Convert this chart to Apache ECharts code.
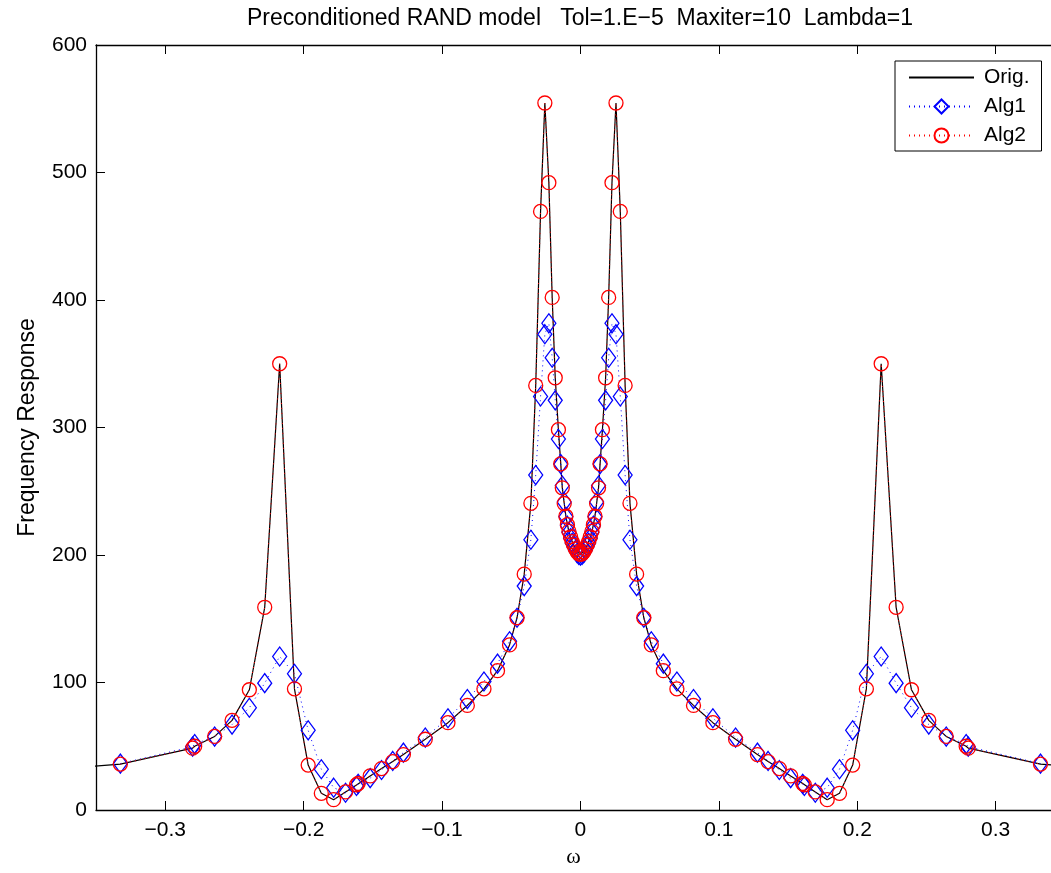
<!DOCTYPE html>
<html>
<head>
<meta charset="utf-8">
<script src="https://cdn.jsdelivr.net/npm/echarts@6/dist/echarts.min.js"></script>
<style>
html, body { margin: 0; padding: 0; background: #fff; }
#main { width: 1051px; height: 873px; }
</style>
</head>
<body>
<div id="main"></div>
<script>
// frequency grid shared by both algorithms
const omega = [
    -0.3324, -0.2802, -0.2787, -0.2643, -0.2517, -0.2392, -0.2281, -0.2173, -0.2066, -0.1967,
    -0.1872, -0.1783, -0.1697, -0.1618, -0.1606, -0.1519, -0.1437, -0.1356, -0.1279, -0.1121,
    -0.0957, -0.0817, -0.0697, -0.0599, -0.0512, -0.0458, -0.0406, -0.0358, -0.0323, -0.0288,
    -0.0257, -0.0228, -0.0204, -0.0182, -0.0159, -0.0142, -0.0131, -0.0117, -0.0105, -0.0094,
    -0.0083, -0.0071, -0.0060, -0.0048, -0.0036, -0.0024, -0.0012,
    0,
    0.0012, 0.0024, 0.0036, 0.0048, 0.0060, 0.0071, 0.0083, 0.0094, 0.0105, 0.0117,
    0.0131, 0.0142, 0.0159, 0.0182, 0.0204, 0.0228, 0.0257, 0.0288, 0.0323, 0.0358,
    0.0406, 0.0458, 0.0512, 0.0599, 0.0697, 0.0817, 0.0957, 0.1121, 0.1279, 0.1356,
    0.1437, 0.1519, 0.1606, 0.1618, 0.1697, 0.1783, 0.1872, 0.1967, 0.2066, 0.2173,
    0.2281, 0.2392, 0.2517, 0.2643, 0.2787, 0.2802, 0.3324
];

const alg1Resp = [
    36.4, 49.7, 51.7, 57.6, 67, 80.2, 99.5, 120.4, 106.8, 62.5,
    32, 17.5, 13.5, 18.8, 20.5, 25, 31.4, 38.5, 45, 56.8,
    72, 87, 100.8, 114.8, 132.3, 150.8, 175.6, 212, 262.7, 324.3,
    373.2, 381.7, 354.7, 321.3, 291, 271.3, 254.5, 241.5, 230, 223,
    217.8, 213.2, 209.5, 206.5, 203.8, 201.5, 200,
    199.5,
    200, 201.5, 203.8, 206.5, 209.5, 213.2, 217.8, 223, 230, 241.5,
    254.5, 271.3, 291, 321.3, 354.7, 381.7, 373.2, 324.3, 262.7, 212,
    175.6, 150.8, 132.3, 114.8, 100.8, 87, 72, 56.8, 45, 38.5,
    31.4, 25, 20.5, 18.8, 13.5, 17.5, 32, 62.5, 106.8, 120.4,
    99.5, 80.2, 67, 57.6, 51.7, 49.7, 36.4
];

const alg2Resp = [
    36, 48.5, 50, 57.7, 70.3, 94.3, 159, 350, 95, 35.2,
    13.1, 8.1, 14.2, 19.7, 20.8, 26.7, 32.5, 38, 43.5, 55.5,
    68.5, 82, 95, 109.3, 129.5, 150.8, 185, 240.5, 333, 469.5,
    554.5, 492, 402, 339, 298.3, 271.5, 252.7, 240.4, 230.4, 223.8,
    218.6, 214.2, 210.5, 207.5, 204.8, 202.5, 201,
    200.5,
    201, 202.5, 204.8, 207.5, 210.5, 214.2, 218.6, 223.8, 230.4, 240.4,
    252.7, 271.5, 298.3, 339, 402, 492, 554.5, 469.5, 333, 240.5,
    185, 150.8, 129.5, 109.3, 95, 82, 68.5, 55.5, 43.5, 38,
    32.5, 26.7, 20.8, 19.7, 14.2, 8.1, 13.1, 35.2, 95, 350,
    159, 94.3, 70.3, 57.7, 50, 48.5, 36
];

// original response, grid runs past the visible axis range
const origOmega = [
    -0.5,
    -0.3324, -0.2802, -0.2787, -0.2643, -0.2517, -0.2392, -0.2281, -0.2173, -0.2066, -0.1967,
    -0.1872, -0.1783, -0.1697, -0.1618, -0.1606, -0.1519, -0.1437, -0.1356, -0.1279, -0.1121,
    -0.0957, -0.0817, -0.0697, -0.0599, -0.0512, -0.0458, -0.0406, -0.0358, -0.0323, -0.0288,
    -0.0257, -0.0228, -0.0204, -0.0182, -0.0159, -0.0142, -0.0131, -0.0117, -0.0105, -0.0094,
    -0.0083, -0.0071, -0.0060, -0.0048, -0.0036, -0.0024, -0.0012,
    0,
    0.0012, 0.0024, 0.0036, 0.0048, 0.0060, 0.0071, 0.0083, 0.0094, 0.0105, 0.0117,
    0.0131, 0.0142, 0.0159, 0.0182, 0.0204, 0.0228, 0.0257, 0.0288, 0.0323, 0.0358,
    0.0406, 0.0458, 0.0512, 0.0599, 0.0697, 0.0817, 0.0957, 0.1121, 0.1279, 0.1356,
    0.1437, 0.1519, 0.1606, 0.1618, 0.1697, 0.1783, 0.1872, 0.1967, 0.2066, 0.2173,
    0.2281, 0.2392, 0.2517, 0.2643, 0.2787, 0.2802, 0.3324,
    0.5
];

const origResp = [
    22,
    36, 48.5, 50, 57.7, 70.3, 94.3, 159, 350, 95, 35.2,
    13.1, 8.1, 14.2, 19.7, 20.8, 26.7, 32.5, 38, 43.5, 55.5,
    68.5, 82, 95, 109.3, 129.5, 150.8, 185, 240.5, 333, 469.5,
    554.5, 492, 402, 339, 298.3, 271.5, 252.7, 240.4, 230.4, 223.8,
    218.6, 214.2, 210.5, 207.5, 204.8, 202.5, 201,
    200.5,
    201, 202.5, 204.8, 207.5, 210.5, 214.2, 218.6, 223.8, 230.4, 240.4,
    252.7, 271.5, 298.3, 339, 402, 492, 554.5, 469.5, 333, 240.5,
    185, 150.8, 129.5, 109.3, 95, 82, 68.5, 55.5, 43.5, 38,
    32.5, 26.7, 20.8, 19.7, 14.2, 8.1, 13.1, 35.2, 95, 350,
    159, 94.3, 70.3, 57.7, 50, 48.5, 36,
    22
];

const xTicks = [-0.3, -0.2, -0.1, 0, 0.1, 0.2, 0.3];
const seriesNames = ['Orig.', 'Alg1', 'Alg2'];
const titleText = 'Preconditioned RAND model   Tol=1.E\u22125  Maxiter=10  Lambda=1';

const FONT = '"Liberation Sans", Arial, Helvetica, sans-serif';

function pairs(xs, ys) {
    return xs.map(function (x, i) { return [x, ys[i]]; });
}

function minusSign(v) {
    return String(v).replace('-', '\u2212');
}

var myChart = echarts.init(document.getElementById('main'), null, { renderer: 'canvas' });

var axisLine = { show: true, onZero: false, lineStyle: { color: '#000', width: 1.3 } };

myChart.setOption({
    animation: false,
    backgroundColor: '#fff',
    graphic: [{
        type: 'text',
        x: 580,
        y: 19,
        style: {
            text: titleText,
            fill: '#000',
            fontSize: 23,
            fontFamily: FONT,
            align: 'center',
            verticalAlign: 'middle'
        }
    }],
    // the plot box runs a little past the right edge of the picture
    grid: { left: 96, top: 45, right: 0, bottom: 63, containLabel: false },
    legend: {
        orient: 'vertical',
        left: 895,
        top: 61,
        padding: [6, 12, 5, 13],
        itemWidth: 65,
        itemHeight: 17.5,
        itemGap: 8,
        backgroundColor: '#fff',
        borderColor: '#000',
        borderWidth: 1,
        borderRadius: 0,
        selectedMode: false,
        textStyle: { color: '#000', fontSize: 21, fontFamily: FONT, padding: [0, 0, 0, 5] },
        data: seriesNames
    },
    xAxis: [{
        type: 'value',
        min: -0.35,
        max: 0.34,
        position: 'bottom',
        axisLine: axisLine,
        axisTick: { show: true, inside: true, length: 9, customValues: xTicks, lineStyle: { color: '#000', width: 1 } },
        axisLabel: { customValues: xTicks, formatter: minusSign, color: '#000', fontSize: 21, fontFamily: FONT, margin: 10 },
        splitLine: { show: false },
        name: '\u03c9',
        nameLocation: 'middle',
        nameGap: 35,
        nameTextStyle: { color: '#000', fontSize: 22, fontFamily: '"Liberation Serif", "DejaVu Serif", serif' }
    }, {
        type: 'value',
        min: -0.35,
        max: 0.34,
        position: 'top',
        axisLine: axisLine,
        axisTick: { show: true, inside: true, length: 9, customValues: xTicks, lineStyle: { color: '#000', width: 1 } },
        axisLabel: { show: false },
        splitLine: { show: false }
    }],
    yAxis: [{
        type: 'value',
        min: 0,
        max: 600,
        interval: 100,
        axisLine: axisLine,
        axisTick: { show: true, inside: true, length: 9, lineStyle: { color: '#000', width: 1 } },
        axisLabel: { color: '#000', fontSize: 21, fontFamily: FONT, margin: 9 },
        splitLine: { show: false },
        name: 'Frequency Response',
        nameLocation: 'middle',
        nameGap: 57,
        nameRotate: 90,
        nameTextStyle: { color: '#000', fontSize: 23, fontFamily: FONT }
    }],
    series: [{
        name: seriesNames[0],
        type: 'line',
        data: pairs(origOmega, origResp),
        symbol: 'none',
        lineStyle: { color: '#000', width: 1.2 },
        itemStyle: { color: 'rgba(0,0,0,0)', borderColor: 'rgba(0,0,0,0)', borderWidth: 0 },
        emphasis: { disabled: true },
        z: 2
    }, {
        name: seriesNames[1],
        type: 'line',
        data: pairs(omega, alg1Resp),
        symbol: 'diamond',
        symbolSize: [14, 19],
        lineStyle: { color: '#0000ff', width: 1, type: [1, 4] },
        itemStyle: { color: 'rgba(0,0,0,0)', borderColor: '#0000ff', borderWidth: 1.3 },
        emphasis: { disabled: true },
        z: 3
    }, {
        name: seriesNames[2],
        type: 'line',
        data: pairs(omega, alg2Resp),
        symbol: 'circle',
        symbolSize: 14,
        lineStyle: { color: '#ff0000', width: 1, type: [1, 4] },
        itemStyle: { color: 'rgba(0,0,0,0)', borderColor: '#ff0000', borderWidth: 1.3 },
        emphasis: { disabled: true },
        z: 4
    }]
});
</script>
</body>
</html>
